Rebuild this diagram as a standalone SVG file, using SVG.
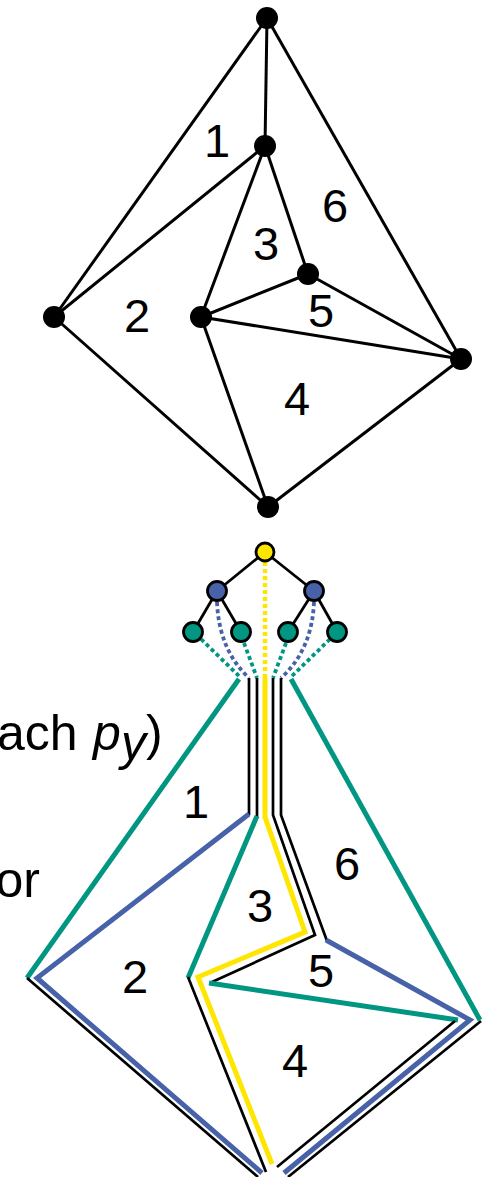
<svg xmlns="http://www.w3.org/2000/svg" width="490" height="1177" viewBox="0 0 490 1177">
<style>
.e{stroke:#000;stroke-width:3;fill:none}
.v{fill:#000}
.lbl{font-family:"Liberation Sans",Arial,sans-serif;font-size:47px;text-anchor:middle;fill:#000}
.txt{font-family:"Liberation Sans",Arial,sans-serif;font-size:50px;fill:#000}
.k{stroke:#000;stroke-width:2.7;fill:none;stroke-linejoin:miter}
.g{stroke:#009681;stroke-width:5;fill:none;stroke-linejoin:miter}
.b{stroke:#4762a8;stroke-width:5;fill:none;stroke-linejoin:miter}
.y{stroke:#ffe600;stroke-width:5;fill:none;stroke-linejoin:miter}
.dg{stroke:#009681;stroke-width:3.8;fill:none;stroke-dasharray:4 3}
.db{stroke:#4762a8;stroke-width:3.8;fill:none;stroke-dasharray:4 3}
.dy{stroke:#ffe600;stroke-width:4.5;fill:none;stroke-dasharray:4 3}
.te{stroke:#000;stroke-width:2.8}
.tn{stroke:#000;stroke-width:2.8}
</style>

<!-- Top graph -->
<g id="top-edges">
<line class="e" x1="267" y1="18" x2="265" y2="146"/>
<line class="e" x1="267" y1="18" x2="54" y2="317"/>
<line class="e" x1="267" y1="18" x2="461" y2="359"/>
<line class="e" x1="265" y1="146" x2="54" y2="317"/>
<line class="e" x1="265" y1="146" x2="201" y2="317"/>
<line class="e" x1="265" y1="146" x2="308" y2="274"/>
<line class="e" x1="54" y1="317" x2="268" y2="507"/>
<line class="e" x1="201" y1="317" x2="308" y2="274"/>
<line class="e" x1="201" y1="317" x2="461" y2="359"/>
<line class="e" x1="201" y1="317" x2="268" y2="507"/>
<line class="e" x1="308" y1="274" x2="461" y2="359"/>
<line class="e" x1="461" y1="359" x2="268" y2="507"/>
</g>
<g id="vT"><circle class="v" cx="267" cy="18" r="11"/></g>
<g id="vI"><circle class="v" cx="265" cy="146" r="11"/></g>
<g id="vL"><circle class="v" cx="54" cy="317" r="11"/></g>
<g id="vM"><circle class="v" cx="201" cy="317" r="11"/></g>
<g id="vQ"><circle class="v" cx="308" cy="274" r="11"/></g>
<g id="vR"><circle class="v" cx="461" cy="359" r="11"/></g>
<g id="vB"><circle class="v" cx="268" cy="507" r="11"/></g>
<g id="top-labels">
<text class="lbl" x="217" y="157">1</text>
<text class="lbl" x="137" y="332">2</text>
<text class="lbl" x="266" y="260">3</text>
<text class="lbl" x="297" y="415">4</text>
<text class="lbl" x="321" y="327">5</text>
<text class="lbl" x="335" y="222">6</text>
</g>

<!-- Tree connectors -->
<g id="tree-connectors">
<line class="te" x1="265" y1="552" x2="217" y2="591"/>
<line class="te" x1="265" y1="552" x2="314" y2="591"/>
<line class="te" x1="217" y1="591" x2="193" y2="632"/>
<line class="te" x1="217" y1="591" x2="241" y2="632"/>
<line class="te" x1="314" y1="591" x2="288" y2="632"/>
<line class="te" x1="314" y1="591" x2="337" y2="632"/>
<path class="dy" d="M265,562 L265,678"/>
<path class="db" d="M217,602 Q219,650 249,678"/>
<path class="db" d="M314,602 Q312,650 281,678"/>
<path class="dg" d="M201,639 L241,678"/>
<path class="dg" d="M244,643 L257,678"/>
<path class="dg" d="M286,643 L273,678"/>
<path class="dg" d="M330,639 L290,678"/>
</g>
<g id="root"><circle class="tn" cx="265" cy="552" r="9" fill="#ffe600"/></g>
<g id="blueL"><circle class="tn" cx="217" cy="591" r="9.5" fill="#4762a8"/></g>
<g id="blueR"><circle class="tn" cx="314" cy="591" r="9.5" fill="#4762a8"/></g>
<g id="green1"><circle class="tn" cx="193" cy="632" r="9.5" fill="#009681"/></g>
<g id="green2"><circle class="tn" cx="241" cy="632" r="9.5" fill="#009681"/></g>
<g id="green3"><circle class="tn" cx="288" cy="632" r="9.5" fill="#009681"/></g>
<g id="green4"><circle class="tn" cx="337" cy="632" r="9.5" fill="#009681"/></g>

<!-- Lower graph paths -->
<g id="lower-paths">
<polyline class="g" points="239,679 27,978"/>
<polyline class="k" points="27,978 258,1177"/>
<polyline class="k" points="249,678 249,815"/>
<polyline class="b" points="249,814 37,978 262,1173"/>
<polyline class="k" points="257,678 257,817"/>
<polyline class="g" points="257,816 188,978"/>
<polyline class="k" points="188,977 266,1172"/>
<polyline class="y" points="265,678 265,817 305,932 198,977 272,1164"/>
<polyline class="k" points="273,678 273,815 315,935 212,982"/>
<polyline class="g" points="209,983 458,1020"/>
<polyline class="k" points="455,1021 277,1167"/>
<polyline class="k" points="281,678 281,815 327,941"/>
<polyline class="b" points="326,940 470,1020 284,1173"/>
<polyline class="g" points="291,679 480,1020"/>
<polyline class="k" points="481,1021 288,1177"/>
</g>
<g id="lower-labels">
<text class="lbl" x="196" y="818">1</text>
<text class="lbl" x="135" y="993">2</text>
<text class="lbl" x="260" y="922">3</text>
<text class="lbl" x="295" y="1077">4</text>
<text class="lbl" x="321" y="987">5</text>
<text class="lbl" x="347" y="880">6</text>
</g>

<!-- Cut-off text at left, as in the reference -->
<g id="side-text">
<text class="txt" x="-3" y="750">ach</text>
<text class="txt" x="93" y="750" font-style="italic">p</text>
<text class="txt" x="121" y="760" font-style="italic" font-size="34">y</text>
<text class="txt" x="146" y="750">)</text>
<text class="txt" x="-4.5" y="897">or</text>
</g>
</svg>
